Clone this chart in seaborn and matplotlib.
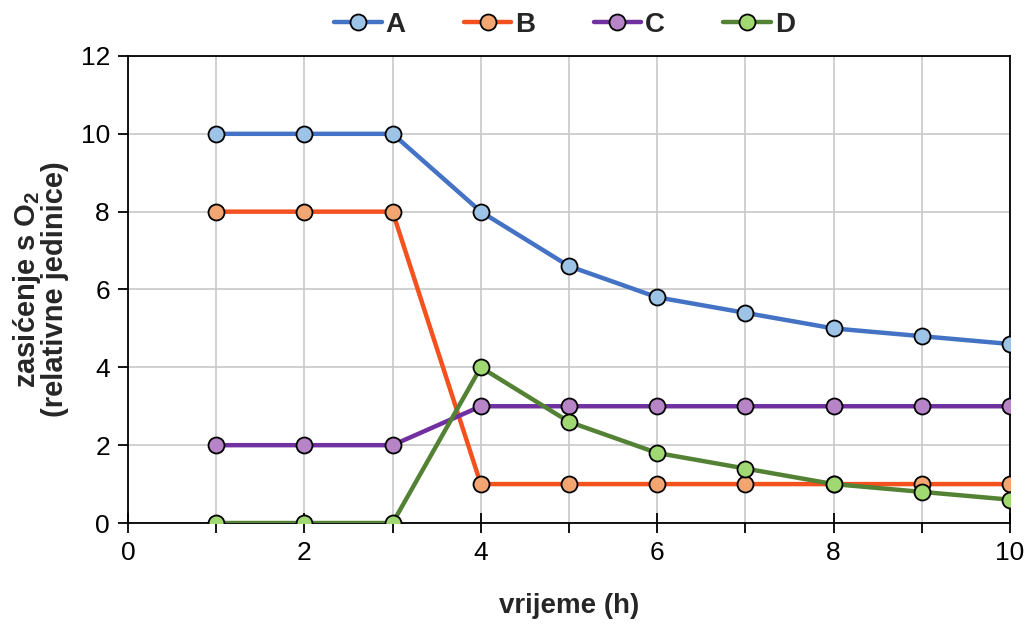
import numpy as np
import pandas as pd
import seaborn as sns
import matplotlib.pyplot as plt
from matplotlib.ticker import MultipleLocator

# data
hours = [1, 2, 3, 4, 5, 6, 7, 8, 9, 10]
a_vals = [10, 10, 10, 8, 6.6, 5.8, 5.4, 5.0, 4.8, 4.6]
b_vals = [8, 8, 8, 1, 1, 1, 1, 1, 1, 1]
c_vals = [2, 2, 2, 3, 3, 3, 3, 3, 3, 3]
d_vals = [0, 0, 0, 4, 2.6, 1.8, 1.4, 1.0, 0.8, 0.6]
names = ['A', 'B', 'C', 'D']

line_cols = ['#4472C4', '#F4511E', '#7030A0', '#548235']
face_cols = ['#9DC3E6', '#F4A672', '#B784C8', '#A0D872']

sns.set_theme(style='white')
plt.rcParams['font.family'] = ['Liberation Sans', 'DejaVu Sans']
plt.rcParams['mathtext.fontset'] = 'custom'
plt.rcParams['mathtext.rm'] = 'Liberation Sans'
plt.rcParams['mathtext.bf'] = 'Liberation Sans:bold'

df = pd.DataFrame({'h': hours * 4,
                   'val': a_vals + b_vals + c_vals + d_vals,
                   'series': np.repeat(names, len(hours))})

fig = plt.figure(figsize=(10.35, 6.29), dpi=100)
ax = fig.add_axes([0.1237, 0.1685, 0.9758 - 0.1237, 0.911 - 0.1685])

for i, n in enumerate(names):
    sub = df[df['series'] == n]
    sns.lineplot(data=sub, x='h', y='val', ax=ax, color=line_cols[i], lw=3.2,
                 marker='o', markersize=11.5, markerfacecolor=face_cols[i],
                 markeredgecolor='black', markeredgewidth=1.3, label=n, zorder=3 + i)

ax.set_xlim(0, 10)
ax.set_ylim(0, 12)
ax.xaxis.set_major_locator(MultipleLocator(2))
ax.xaxis.set_minor_locator(MultipleLocator(1))
ax.yaxis.set_major_locator(MultipleLocator(2))
ax.grid(True, which='both', axis='x', color='#C8C8C8', lw=1.2)
ax.grid(True, which='major', axis='y', color='#C8C8C8', lw=1.2)
ax.set_axisbelow(True)

for s in ax.spines.values():
    s.set_color('black')
    s.set_linewidth(1.3)

ax.tick_params(axis='x', which='major', direction='inout', length=14, width=1.3,
               labelsize=19, pad=6, colors='black')
ax.tick_params(axis='x', which='minor', direction='out', length=7, width=1.3, color='black')
ax.tick_params(axis='y', which='major', direction='out', length=7, width=1.3,
               labelsize=19, pad=6, colors='black')
ax.tick_params(bottom=True, left=True, which='both')

ax.set_xlabel('vrijeme (h)', fontsize=20, fontweight='bold', labelpad=20)
ax.set_ylabel('zasićenje s O$_\\mathbf{2}$\n(relativne jedinice)', fontsize=21,
              fontweight='bold', labelpad=8, linespacing=0.95)

leg = ax.legend(loc='lower center', bbox_to_anchor=(0.495, 1.0), ncol=4, frameon=False,
                prop={'weight': 'bold', 'size': 20}, handlelength=1.7,
                columnspacing=2.1, handletextpad=0.15, borderaxespad=0.25)

fig.savefig('out.png', dpi=100)
